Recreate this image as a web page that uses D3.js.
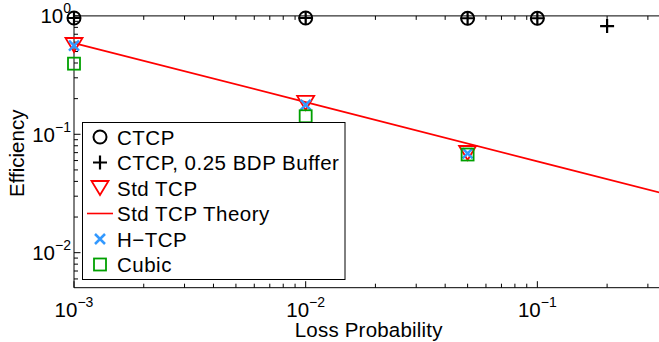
<!DOCTYPE html>
<html>
<head>
<meta charset="utf-8">
<script src="https://cdn.jsdelivr.net/npm/d3@7"></script>
<style>
  body { margin: 0; background: #fff; }
  svg { display: block; font-family: "Liberation Sans", Arial, sans-serif; }
</style>
</head>
<body>
<div class="chart"></div>
<script>
// values
let ctcpLoss = [0.001, 0.01, 0.05, 0.1];
let ctcp = [0.96, 0.96, 0.955, 0.955];
let bufLoss = [0.001, 0.01, 0.05, 0.1, 0.2];
let ctcpBuf = [0.96, 0.96, 0.955, 0.955, 0.82];
let stdLoss = [0.001, 0.01, 0.05];
let stdTcp = [0.568, 0.184, 0.0695];
let htcp = [0.56, 0.177, 0.069];
let cubic = [0.395, 0.142, 0.0675];
let theoryLoss = [0.001, 0.01, 0.1, 0.35];
let theory = [0.59, 0.187, 0.059, 0.0316];
let xTicks = [0.001, 0.01, 0.1];
let xTickExp = ["\u22123", "\u22122", "\u22121"];
let yTicks = [0.01, 0.1, 1];
let yTickExp = ["\u22122", "\u22121", "0"];
let legendNames = ["CTCP", "CTCP, 0.25 BDP Buffer", "Std TCP", "Std TCP Theory", "H\u2212TCP", "Cubic"];

let W = 659, H = 342;
let red = "#ff0000", blue = "#3399ff", green = "#00a000";

let svg = d3.select(".chart").append("svg")
    .attr("width", W)
    .attr("height", H);

let x = d3.scaleLog().domain([0.001, 0.35]).range([74, 663.4]);
let y = d3.scaleLog().domain([0.00506, 1]).range([287.7, 15.9]);

let x0 = x.range()[0], x1 = x.range()[1];
let yb = y.range()[0], yt = y.range()[1];

// minor ticks
let minorX = [], minorY = [];
[0.001, 0.01, 0.1].forEach(d => {
    for (let k = 2; k <= 9; k++) {
        let v = d * k;
        if (v < 0.35) minorX.push(v);
    }
});
[0.001, 0.01, 0.1].forEach(d => {
    for (let k = 2; k <= 9; k++) {
        let v = d * k;
        if (v > 0.00506 && v < 1) minorY.push(v);
    }
});

let axes = svg.append("g").attr("stroke", "#000").attr("stroke-width", 1);
axes.append("line").attr("x1", x0).attr("x2", x1).attr("y1", yb).attr("y2", yb);
axes.append("line").attr("x1", x0).attr("x2", x1).attr("y1", yt).attr("y2", yt);
axes.append("line").attr("x1", x0).attr("x2", x0).attr("y1", yt).attr("y2", yb);

let tickX = (vals, len) => {
    vals.forEach(v => {
        axes.append("line").attr("x1", x(v)).attr("x2", x(v)).attr("y1", yb).attr("y2", yb - len);
        axes.append("line").attr("x1", x(v)).attr("x2", x(v)).attr("y1", yt).attr("y2", yt + len);
    });
};
let tickY = (vals, len) => {
    vals.forEach(v => {
        axes.append("line").attr("x1", x0).attr("x2", x0 + len).attr("y1", y(v)).attr("y2", y(v));
    });
};
tickX(xTicks, 6.5);
tickX(minorX, 4);
tickY(yTicks, 6.5);
tickY(minorY, 4);

// tick labels
xTicks.forEach((v, i) => {
    let t = svg.append("text")
        .attr("x", x(v))
        .attr("y", yb + 29)
        .attr("text-anchor", "middle")
        .attr("font-size", 20.5);
    t.append("tspan").text("10");
    t.append("tspan").attr("dy", -10).attr("font-size", 14).text(xTickExp[i]);
});
yTicks.forEach((v, i) => {
    let t = svg.append("text")
        .attr("x", 71)
        .attr("y", y(v) + 7.5)
        .attr("text-anchor", "end")
        .attr("font-size", 20.5);
    t.append("tspan").text("10");
    t.append("tspan").attr("dy", -10).attr("font-size", 14).text(yTickExp[i]);
});

svg.append("text")
    .attr("x", (x0 + x1) / 2)
    .attr("y", 337)
    .attr("text-anchor", "middle")
    .attr("font-size", 20.5)
    .attr("letter-spacing", 0.2)
    .text("Loss Probability");

svg.append("text")
    .attr("transform", `translate(23.5, ${(yt + yb) / 2 + 1.5}) rotate(-90)`)
    .attr("text-anchor", "middle")
    .attr("font-size", 20.5)
    .text("Efficiency");

// marker shapes
let drawCircle = (g, cx, cy) => g.append("circle").attr("cx", cx).attr("cy", cy).attr("r", 6.5)
    .attr("fill", "none").attr("stroke", "#000").attr("stroke-width", 2);
let drawPlus = (g, cx, cy) => g.append("path")
    .attr("d", `M${cx - 7},${cy}H${cx + 7}M${cx},${cy - 7}V${cy + 7}`)
    .attr("stroke", "#000").attr("stroke-width", 2.2);
let drawTri = (g, cx, cy) => g.append("path")
    .attr("d", `M${cx - 8.5},${cy - 7}L${cx + 8.5},${cy - 7}L${cx},${cy + 7}Z`)
    .attr("fill", "none").attr("stroke", red).attr("stroke-width", 1.8);
let drawX = (g, cx, cy) => g.append("path")
    .attr("d", `M${cx - 5},${cy - 5}L${cx + 5},${cy + 5}M${cx - 5},${cy + 5}L${cx + 5},${cy - 5}`)
    .attr("stroke", blue).attr("stroke-width", 2.5);
let drawSq = (g, cx, cy) => g.append("rect")
    .attr("x", cx - 6).attr("y", cy - 6).attr("width", 12).attr("height", 12)
    .attr("fill", "none").attr("stroke", green).attr("stroke-width", 1.8);

let plot = svg.append("g");

let line = d3.line().x(d => x(d[0])).y(d => y(d[1]));
plot.append("path")
    .datum(d3.zip(theoryLoss, theory))
    .attr("d", line)
    .attr("fill", "none")
    .attr("stroke", red)
    .attr("stroke-width", 1.8);

stdLoss.forEach((v, i) => drawTri(plot, x(v), y(stdTcp[i])));
ctcpLoss.forEach((v, i) => drawCircle(plot, x(v), y(ctcp[i])));
bufLoss.forEach((v, i) => drawPlus(plot, x(v), y(ctcpBuf[i])));
stdLoss.forEach((v, i) => drawX(plot, x(v), y(htcp[i])));
stdLoss.forEach((v, i) => drawSq(plot, x(v), y(cubic[i])));

// legend
let leg = svg.append("g");
leg.append("rect")
    .attr("x", 82.5).attr("y", 122.5)
    .attr("width", 262.5).attr("height", 157)
    .attr("fill", "#fff").attr("stroke", "#000").attr("stroke-width", 1);

let markers = [drawCircle, drawPlus, drawTri, null, drawX, drawSq];
legendNames.forEach((name, i) => {
    let cy = 137 + i * 25.5;
    if (markers[i]) {
        markers[i](leg, 100, cy);
    } else {
        leg.append("line").attr("x1", 87).attr("x2", 113).attr("y1", cy).attr("y2", cy)
            .attr("stroke", red).attr("stroke-width", 1.6);
    }
    leg.append("text")
        .attr("x", 117)
        .attr("y", cy + 7.5)
        .attr("font-size", 20.5)
        .attr("letter-spacing", 0.5)
        .text(name);
});
</script>
</body>
</html>
